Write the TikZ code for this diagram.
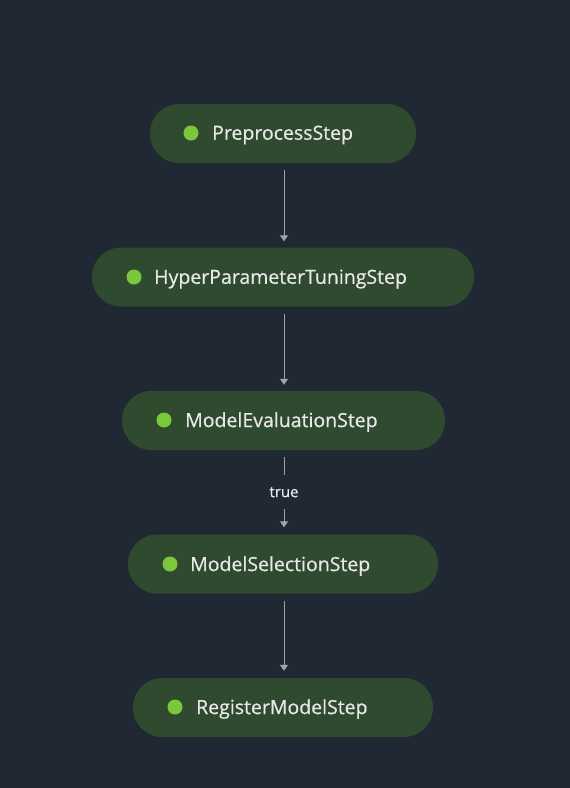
\documentclass[tikz,border=0pt]{standalone}
\usepackage{fontspec}
\setmainfont{Open Sans}
\newfontfamily\stepfont{Open Sans}[FakeBold=0.6]
\usetikzlibrary{arrows.meta}
\definecolor{bgc}{HTML}{1F2833}
\definecolor{nodec}{HTML}{2F4A2F}
\definecolor{dotc}{HTML}{7CC83C}
\definecolor{txtc}{HTML}{E8E8E8}
\definecolor{arrc}{HTML}{A0A4AA}
\tikzset{
  stepbox/.style={rectangle, rounded corners=29pt, fill=nodec, minimum height=59pt, inner sep=0pt},
  stepdot/.style={circle, fill=dotc, minimum size=15pt, inner sep=0pt},
  steptext/.style={anchor=west, inner sep=0pt, text=txtc, font=\stepfont\fontsize{19.5pt}{22pt}\selectfont},
  flow/.style={draw=arrc, line width=1pt, -{Triangle[width=8pt,length=6pt]}},
}
\begin{document}
\begin{tikzpicture}[x=1pt,y=-1pt]
\fill[bgc] (0,0) rectangle (570,788);
\useasboundingbox (0,0) rectangle (570,788);
% nodes
\node[stepbox, minimum width=266pt] (pre) at (283,133.5) {};
\node[stepdot] (preD) at (191,133) {};
\node[steptext] (preT) at (212,135) {PreprocessStep};

\node[stepbox, minimum width=382pt] (hyp) at (283,277) {};
\node[stepdot] (hypD) at (134,277) {};
\node[steptext] (hypT) at (154,279) {HyperParameterTuningStep};

\node[stepbox, minimum width=323pt] (eva) at (283.5,420.5) {};
\node[stepdot] (evaD) at (164,420) {};
\node[steptext] (evaT) at (185,422) {ModelEvaluationStep};

\node[stepbox, minimum width=310pt] (sel) at (283,564) {};
\node[stepdot] (selD) at (170,564) {};
\node[steptext] (selT) at (190,566) {ModelSelectionStep};

\node[stepbox, minimum width=300pt] (reg) at (283,707.5) {};
\node[stepdot] (regD) at (175,707) {};
\node[steptext] (regT) at (196,709) {RegisterModelStep};

% connectors
\draw[flow] ([yshift=-7pt]pre.south -| 284,0) -- ([yshift=6pt]hyp.north -| 284,0);
\draw[flow] ([yshift=-7pt]hyp.south -| 284,0) -- ([yshift=6pt]eva.north -| 284,0);
\draw[flow] ([yshift=-7pt]eva.south -| 284,0) -- node[fill=bgc, inner sep=0pt, minimum height=34pt, text=txtc, font=\stepfont\fontsize{15pt}{17pt}\selectfont] (lbl) {true} ([yshift=7pt]sel.north -| 284,0);
\draw[flow] ([yshift=-7pt]sel.south -| 284,0) -- ([yshift=7pt]reg.north -| 284,0);
\end{tikzpicture}
\end{document}
